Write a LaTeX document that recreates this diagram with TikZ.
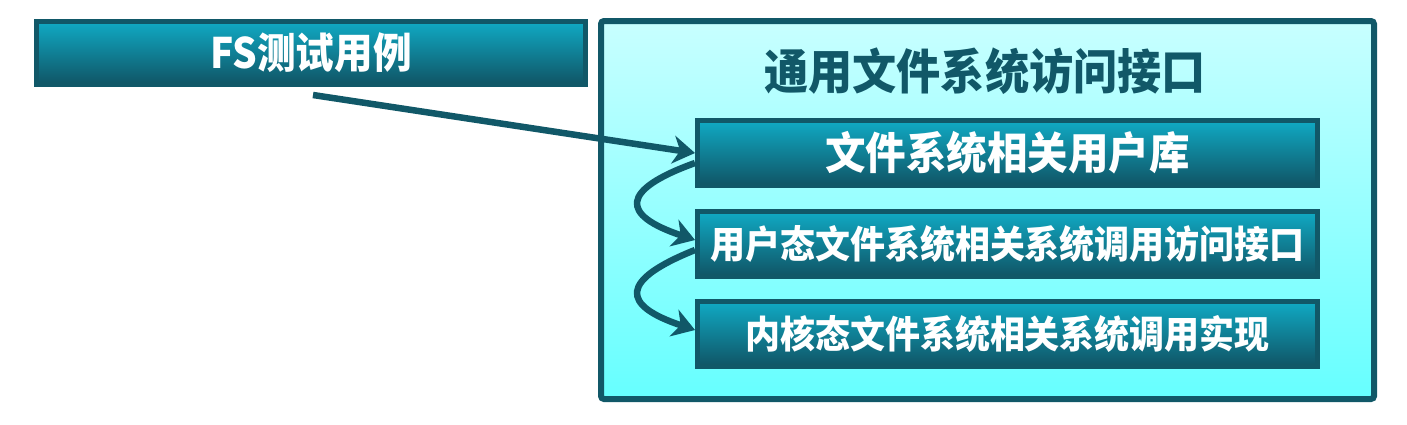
\documentclass[tikz,border=0pt]{standalone}
\usepackage{fontspec}
\newfontfamily\cjk{Noto Sans CJK SC}[BoldFont={Noto Sans CJK SC Black}, FakeStretch=0.92]
\usetikzlibrary{arrows.meta,calc}
\definecolor{dteal}{HTML}{115868}
\definecolor{btop}{HTML}{10AAC4}
\definecolor{bbot}{HTML}{105465}
\definecolor{ctop}{HTML}{C8FFFF}
\definecolor{cbot}{HTML}{66FFFF}
\tikzset{
  tealbox/.style={draw=dteal, line width=5pt, top color=btop, bottom color=bbot,
    text=white, font=\cjk\bfseries, inner sep=0pt},
  outerbox/.style={draw=dteal, line width=6pt, rounded corners=3pt, top color=ctop, bottom color=cbot, inner sep=0pt},
  arr/.style={draw=dteal, line width=6.5pt, -{Stealth[length=22pt,width=28pt,inset=7pt]}}
}
\begin{document}
\begin{tikzpicture}[x=1pt,y=-1pt]
\useasboundingbox (0,0) rectangle (1407,424);
\node[outerbox, minimum width=773pt, minimum height=378pt] (big) at (987.5,210) {};
\node[font=\cjk\bfseries\fontsize{48}{52}\selectfont, text=dteal] (title) at (985,71) {通用文件系统访问接口};
\node[tealbox, minimum width=549pt, minimum height=63pt, font=\cjk\bfseries\fontsize{42}{46}\selectfont] (fs) at (311,53) {FS测试用例};
\node[tealbox, minimum width=620pt, minimum height=65pt, font=\cjk\bfseries\fontsize{44}{48}\selectfont] (b1) at (1007.5,153) {文件系统相关用户库};
\node[tealbox, minimum width=620pt, minimum height=65pt, font=\cjk\bfseries\fontsize{38}{42}\selectfont] (b2) at (1007.5,244) {用户态文件系统相关系统调用访问接口};
\node[tealbox, minimum width=620pt, minimum height=65pt, font=\cjk\bfseries\fontsize{38}{42}\selectfont] (b3) at (1007.5,334) {内核态文件系统相关系统调用实现};
\coordinate (s) at (313,95);
\draw[arr] (s) -- (b1.west);
\draw[arr] ($(b1.west)+(0,10)$) .. controls (620,190) and (620,215) .. ($(b2.west)+(0,-4)$);
\draw[arr] ($(b2.west)+(0,6)$) .. controls (620,280) and (620,305) .. ($(b3.west)+(0,-4)$);
\end{tikzpicture}
\end{document}
